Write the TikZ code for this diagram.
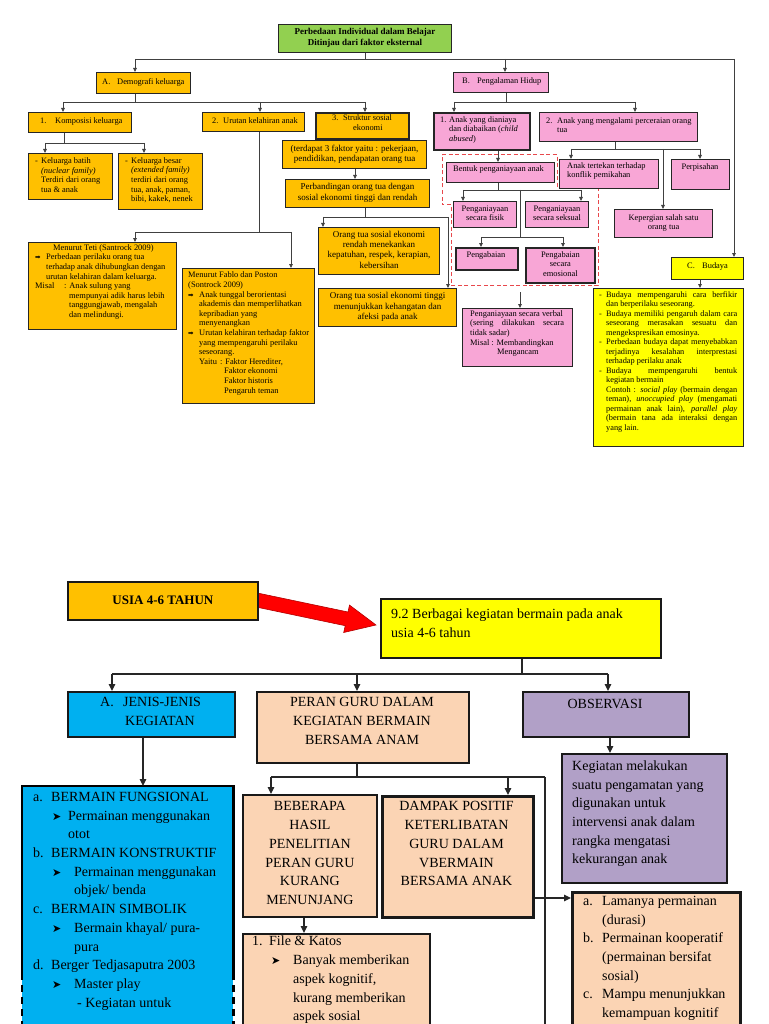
\documentclass[tikz,border=0pt]{standalone}
\usepackage{fontspec}
\setmainfont{Liberation Serif}
\newfontfamily\sym{DejaVu Sans}
\usetikzlibrary{arrows.meta}
\definecolor{gr}{HTML}{92D050}
\definecolor{org}{HTML}{FFC000}
\definecolor{pnk}{HTML}{F8A6D6}
\definecolor{ylw}{HTML}{FFFF00}
\definecolor{blu}{HTML}{00B0F0}
\definecolor{pch}{HTML}{FBD4B4}
\definecolor{pur}{HTML}{B1A0C7}
\definecolor{dred}{HTML}{E8484C}
\newcommand\ft{\fontsize{8.4}{9.6}\selectfont}
\newcommand\fc{\fontsize{9}{10.3}\selectfont}
\newcommand\fb{\fontsize{14}{18.7}\selectfont}
\newcommand\rarr{\makebox[11pt][l]{\sym\fontsize{6.5}{6}\selectfont ➡}}
\newcommand\rhead{{\sym\fontsize{11}{11}\selectfont ➤}}
\newcommand\bitem{\par\hangindent=7pt\hangafter=1\noindent\makebox[7pt][l]{-}}
\begin{document}
\begin{tikzpicture}[x=1pt,y=-1pt,
 bx/.style={draw=black!85,line width=1.1pt,inner sep=0pt,anchor=north west},
 bxk/.style={bx,line width=1.8pt},
 bb/.style={draw=black!90,line width=1.8pt,inner sep=0pt,anchor=north west},
 bbk/.style={bb,line width=2.8pt},
 tt/.style={inner sep=0pt,align=left,font=\ft,execute at begin node=\strut,execute at end node=\strut},
 ttc/.style={tt,align=center},
 tcs/.style={ttc,font=\fc},
 tb/.style={tt,font=\fb},
 tbc/.style={tb,align=center},
 con/.style={draw=black!75,line width=0.8pt},
 arr/.style={con,-{Triangle[length=4pt,width=3.6pt]}},
 bcon/.style={draw=black!85,line width=1.2pt},
 barr/.style={bcon,-{Triangle[length=7pt,width=6.5pt]}},
]
\useasboundingbox (0,0) rectangle (768,1024);
\fill[white] (0,0) rectangle (768,1024);
\clip (0,0) rectangle (768,1024);

% ---------------- TOP DIAGRAM ----------------
\draw[dred,line width=1pt,dash pattern=on 4pt off 2.5pt] (442,155) -- (557,155) -- (557,188) -- (598,188) -- (598,285) -- (451,285) -- (451,205) -- (442,205) -- cycle;

\node[bx,fill=gr,minimum width=173pt,minimum height=28pt] (T) at (278,24) {};
\node[bx,fill=org,minimum width=94pt,minimum height=21pt] (A) at (96,72) {};
\node[bx,fill=pnk,minimum width=95pt,minimum height=20pt] (B) at (453,72) {};
\node[bx,fill=org,minimum width=103pt,minimum height=20pt] (K1) at (28,112) {};
\node[bx,fill=org,minimum width=102pt,minimum height=19pt] (K2) at (202,112) {};
\node[bxk,fill=org,minimum width=93pt,minimum height=26pt] (K3) at (315,112) {};
\node[bxk,fill=pnk,minimum width=96pt,minimum height=37pt] (B1) at (433,112) {};
\node[bx,fill=pnk,minimum width=158pt,minimum height=29pt] (B2) at (539,112) {};
\node[bx,fill=org,minimum width=84pt,minimum height=46pt] (Kb) at (28,153) {};
\node[bx,fill=org,minimum width=84pt,minimum height=56pt] (Kbs) at (118,153) {};
\node[bx,fill=org,minimum width=148pt,minimum height=87pt] (Te) at (28,242) {};
\node[bx,fill=org,minimum width=132pt,minimum height=135pt] (Fa) at (182,268) {};
\node[bx,fill=org,minimum width=144pt,minimum height=28pt] (S1) at (282,140) {};
\node[bx,fill=org,minimum width=144pt,minimum height=28pt] (S2) at (285,179) {};
\node[bx,fill=org,minimum width=121pt,minimum height=47pt] (S3) at (318,227) {};
\node[bx,fill=org,minimum width=138pt,minimum height=38pt] (S4) at (318,288) {};
\node[bx,fill=pnk,minimum width=108pt,minimum height=20pt] (Be) at (446,162) {};
\node[bx,fill=pnk,minimum width=63pt,minimum height=26pt] (Fi) at (453,201) {};
\node[bx,fill=pnk,minimum width=63pt,minimum height=26pt] (Se) at (525,201) {};
\node[bxk,fill=pnk,minimum width=62pt,minimum height=22pt] (Pg) at (455,247) {};
\node[bxk,fill=pnk,minimum width=69pt,minimum height=35pt] (Em) at (525,247) {};
\node[bx,fill=pnk,minimum width=110pt,minimum height=58pt] (Ve) at (462,308) {};
\node[bx,fill=pnk,minimum width=99pt,minimum height=29pt] (Tr) at (559,159) {};
\node[bx,fill=pnk,minimum width=58pt,minimum height=30pt] (Pe) at (671,159) {};
\node[bx,fill=pnk,minimum width=98pt,minimum height=28pt] (Kp) at (614,209) {};
\node[bx,fill=ylw,minimum width=72pt,minimum height=22pt] (C) at (671,257) {};
\node[bx,fill=ylw,minimum width=150pt,minimum height=158pt] (Bu) at (593,288) {};

% top texts
\node[tcs,font=\fc\bfseries] (T-t) at (T.center) {Perbedaan Individual dalam Belajar\\Ditinjau dari faktor eksternal};
\node[tt,anchor=west] (A-t) at (102,82.5) {\makebox[15pt][l]{A.}Demografi keluarga};
\node[tt,anchor=west] (B-t) at (462,82) {\makebox[15pt][l]{B.}Pengalaman Hidup};
\node[tt,anchor=west] (K1-t) at (40,122) {\makebox[15pt][l]{1.}Komposisi keluarga};
\node[tt,anchor=west] (K2-t) at (212,121.5) {\makebox[11pt][l]{2.}Urutan kelahiran anak};
\node[tt,anchor=west] (K3-t) at (332,124) {\makebox[11pt][l]{3.}Struktur sosial\\\hspace*{21pt}ekonomi};
\node[tt,anchor=west] (B1-t) at (440,130.5) {\makebox[9pt][l]{1.}Anak yang dianiaya\\\hspace*{9pt}dan diabaikan (\textit{child}\\\hspace*{9pt}\textit{abused})};
\node[tt,anchor=west] (B2-t) at (546,126.5) {\makebox[11pt][l]{2.}Anak yang mengalami perceraian orang\\\hspace*{11pt}tua};
\node[tt,anchor=west] (Kb-t) at (35,176.5) {\makebox[6pt][l]{-}Keluarga batih\\\hspace*{6pt}\textit{(nuclear family)}\\\hspace*{6pt}Terdiri dari orang\\\hspace*{6pt}tua \& anak};
\node[tt,anchor=west] (Kbs-t) at (125,181) {\makebox[6pt][l]{-}Keluarga besar\\\hspace*{6pt}\textit{(extended family)}\\\hspace*{6pt}terdiri dari orang\\\hspace*{6pt}tua, anak, paman,\\\hspace*{6pt}bibi, kakek, nenek};
\node[tt,anchor=west] (Te-t) at (35,282.5) {\hspace*{18pt}Menurut Teti (Santrock 2009)\\
\rarr Perbedaan perilaku orang tua\\
\hspace*{11pt}terhadap anak dihubungkan dengan\\
\hspace*{11pt}urutan kelahiran dalam keluarga.\\
\makebox[29pt][l]{Misal}: Anak sulung yang\\
\hspace*{34pt}mempunyai adik harus lebih\\
\hspace*{34pt}tanggungjawab, mengalah\\
\hspace*{34pt}dan melindungi.};
\node[tt,anchor=west] (Fa-t) at (188,334) {Menurut Fablo dan Poston\\
(Sontrock 2009)\\
\rarr Anak tunggal berorientasi\\
\hspace*{11pt}akademis dan memperlihatkan\\
\hspace*{11pt}kepribadian yang\\
\hspace*{11pt}menyenangkan\\
\rarr Urutan kelahiran terhadap faktor\\
\hspace*{11pt}yang mempengaruhi perilaku\\
\hspace*{11pt}seseorang.\\
\hspace*{11pt}\makebox[21pt][l]{Yaitu}: Faktor Herediter,\\
\hspace*{36pt}Faktor ekonomi\\
\hspace*{36pt}Faktor historis\\
\hspace*{36pt}Pengaruh teman};
\node[tcs] (S1-t) at (S1.center) {(terdapat 3 faktor yaitu : pekerjaan,\\pendidikan, pendapatan orang tua};
\node[tcs] (S2-t) at (S2.center) {Perbandingan orang tua dengan\\sosial ekonomi tinggi dan rendah};
\node[tcs] (S3-t) at (S3.center) {Orang tua sosial ekonomi\\rendah menekankan\\kepatuhan, respek, kerapian,\\kebersihan};
\node[tcs] (S4-t) at (S4.center) {Orang tua sosial ekonomi tinggi\\menunjukkan kehangatan dan\\afeksi pada anak};
\node[tt,anchor=west] (Be-t) at (453,170) {Bentuk penganiayaan anak};
\node[ttc] (Fi-t) at (Fi.center) {Penganiayaan\\secara fisik};
\node[ttc] (Se-t) at (Se.center) {Penganiayaan\\secara seksual};
\node[ttc] (Pg-t) at (486,256) {Pengabaian};
\node[ttc] (Em-t) at (Em.center) {Pengabaian\\secara\\emosional};
\node[tt,anchor=west] (Ve-t) at (470,334) {Penganiayaan secara verbal\\
\makebox[94pt][s]{(sering dilakukan secara}\\
tidak sadar)\\
Misal : Membandingkan\\
\hspace*{27pt}Mengancam};
\node[tt,anchor=west] (Tr-t) at (567,171.5) {Anak tertekan terhadap\\konflik pemikahan};
\node[ttc] (Pe-t) at (700,168) {Perpisahan};
\node[ttc] (Kp-t) at (Kp.center) {Kepergian salah satu\\orang tua};
\node[tt,anchor=west] (C-t) at (687,267) {\makebox[15pt][l]{C.}Budaya};
\node[inner sep=0pt,anchor=west,font=\fontsize{8.3}{9.5}\selectfont] (Bu-t) at (599,361.5) {\parbox{138pt}{%
\bitem Budaya mempengaruhi cara berfikir\linebreak dan berperilaku seseorang.
\bitem Budaya memiliki pengaruh dalam cara\linebreak seseorang merasakan sesuatu dan\linebreak mengekspresikan emosinya.
\bitem Perbedaan budaya dapat menyebabkan\linebreak terjadinya kesalahan interprestasi\linebreak terhadap perilaku anak
\bitem Budaya mempengaruhi bentuk\linebreak kegiatan bermain\newline Contoh : \textit{social play} (bermain dengan\linebreak teman), \textit{unoccupied play} (mengamati\linebreak permainan anak lain), \textit{parallel play}\linebreak (bermain tana ada interaksi dengan\linebreak yang lain.}};

% top connectors
\coordinate (t0) at (135,59); \coordinate (t1) at (734,59); \coordinate (t2) at (505,59);
\draw[con] (T.south) -- (T.south |- t0);
\draw[con] (t0) -- (t1);
\draw[arr] (t0) -- (t0 |- A.north);
\draw[arr] (t2) -- (t2 |- B.north);
\draw[arr] (t1) -- (t1 |- C.north);

\coordinate (a0) at (135,102); \coordinate (a1) at (63,102); \coordinate (a2) at (260,102); \coordinate (a3) at (365,102);
\draw[con] (A.south -| a0) -- (a0);
\draw[con] (a1) -- (a3);
\draw[arr] (a1) -- (a1 |- K1.north);
\draw[arr] (a2) -- (a2 |- K2.north);
\draw[arr] (a3) -- (a3 |- K3.north);

\coordinate (k0) at (64,143); \coordinate (k1) at (45,143); \coordinate (k2) at (144,143);
\draw[con] (K1.south -| k0) -- (k0);
\draw[con] (k1) -- (k2);
\draw[arr] (k1) -- (k1 |- Kb.north);
\draw[arr] (k2) -- (k2 |- Kbs.north);

\coordinate (u0) at (259,232); \coordinate (u1) at (135,232); \coordinate (u2) at (291,232);
\draw[con] (K2.south -| u0) -- (u0);
\draw[con] (u1) -- (u2);
\draw[arr] (u1) -- (u1 |- Te.north);
\draw[arr] (u2) -- (u2 |- Fa.north);

\coordinate (s0) at (355,0);
\draw[arr] (S1.south -| s0) -- (S2.north -| s0);
\coordinate (s1) at (365,217); \coordinate (s2) at (323,217); \coordinate (s3) at (448,217);
\draw[con] (S2.south -| s1) -- (s1);
\draw[con] (s2) -- (s3);
\draw[arr] (s2) -- (s2 |- S3.north);
\draw[arr] (s3) -- (s3 |- S4.north);

\coordinate (b0) at (506,102); \coordinate (b1) at (454,102); \coordinate (b2) at (635,102);
\draw[con] (B.south -| b0) -- (b0);
\draw[con] (b1) -- (b2);
\draw[arr] (b1) -- (b1 |- B1.north);
\draw[arr] (b2) -- (b2 |- B2.north);

\coordinate (c0) at (498,0);
\draw[arr] (B1.south -| c0) -- (Be.north -| c0);
\coordinate (d0) at (498,190); \coordinate (d1) at (463,190); \coordinate (d2) at (581,190);
\coordinate (d3) at (520,190); \coordinate (d4) at (520,237); \coordinate (d5) at (481,237); \coordinate (d6) at (563,237);
\draw[con] (Be.south -| d0) -- (d0);
\draw[con] (d1) -- (d2);
\draw[arr] (d1) -- (d1 |- Fi.north);
\draw[arr] (d2) -- (d2 |- Se.north);
\draw[con] (d3) -- (d4);
\draw[con] (d5) -- (d6);
\draw[arr] (d5) -- (d5 |- Pg.north);
\draw[arr] (d6) -- (d6 |- Em.north);
\coordinate (v0) at (520,292);
\draw[arr] (v0) -- (v0 |- Ve.north);

\coordinate (e0) at (615,149); \coordinate (e1) at (571,149); \coordinate (e2) at (700,149); \coordinate (e3) at (663,149);
\draw[con] (B2.south -| e0) -- (e0);
\draw[con] (e1) -- (e2);
\draw[arr] (e1) -- (e1 |- Tr.north);
\draw[arr] (e2) -- (e2 |- Pe.north);
\draw[arr] (e3) -- (e3 |- Kp.north);
\coordinate (f0) at (700,0);
\draw[arr] (C.south -| f0) -- (Bu.north -| f0);

% ---------------- BOTTOM DIAGRAM ----------------
\filldraw[fill=red,draw=red!70!black,line width=0.6pt] (258.4,593.2) -- (348.0,612.0) -- (349.5,605.1) -- (376,625) -- (343.7,632.5) -- (345.2,625.7) -- (255.6,606.9) -- cycle;

\node[bb,fill=org,minimum width=190pt,minimum height=38pt] (Us) at (67,581) {};
\node[bb,fill=ylw,minimum width=280pt,minimum height=59pt] (Y) at (380,598) {};
\node[bb,fill=blu,minimum width=167pt,minimum height=45pt] (Aj) at (67,691) {};
\node[bb,fill=pch,minimum width=212pt,minimum height=71pt] (Pr) at (256,691) {};
\node[bb,fill=pur,minimum width=166pt,minimum height=45pt] (Ob) at (522,691) {};
\node[bb,fill=pur,minimum width=165pt,minimum height=129pt] (Pu) at (561,753) {};
\node[fill=blu,inner sep=0pt,anchor=north west,minimum width=211pt,minimum height=260pt] (Bl) at (22,786) {};
\draw[line width=2.6pt] (Bl.west |- 0,973) -- (Bl.north west) -- (Bl.north east) -- (Bl.east |- 0,973);
\draw[line width=2.6pt,dash pattern=on 7pt off 5pt] (Bl.west |- 0,973) -- (Bl.south west) (Bl.east |- 0,973) -- (Bl.south east);
\node[bb,fill=pch,minimum width=134pt,minimum height=122pt] (Bb) at (242,794) {};
\node[bbk,fill=pch,minimum width=151pt,minimum height=121pt] (Dm) at (381,795) {};
\node[bb,fill=pch,minimum width=187pt,minimum height=120pt] (Fk) at (242,933) {};
\node[bbk,fill=pch,minimum width=168pt,minimum height=160pt] (La) at (571,891) {};

% bottom texts
\node[tbc,font=\fontsize{13}{16}\selectfont\bfseries] (Us-t) at (Us.center) {USIA 4-6 TAHUN};
\node[tb,anchor=west] (Y-t) at (391,626) {9.2 Berbagai kegiatan bermain pada anak\\usia 4-6 tahun};
\node[tb,anchor=west] (Aj-t) at (100,714) {\makebox[23pt][l]{A.}JENIS-JENIS\\\hspace*{25pt}KEGIATAN};
\node[tbc] (Pr-t) at (362,723.5) {PERAN GURU DALAM\\KEGIATAN BERMAIN\\BERSAMA ANAM};
\node[tbc] (Ob-t) at (605,705) {OBSERVASI};
\node[tb,anchor=west] (Pu-t) at (572,815) {Kegiatan melakukan\\suatu pengamatan yang\\digunakan untuk\\intervensi anak dalam\\rangka mengatasi\\kekurangan anak};
\node[tb,anchor=north west] (Bl-t) at (33,792) {\makebox[18pt][l]{a.}BERMAIN FUNGSIONAL\\
\hspace*{19pt}\makebox[16pt][l]{\rhead}Permainan menggunakan\\
\hspace*{35pt}otot\\
\makebox[18pt][l]{b.}BERMAIN KONSTRUKTIF\\
\hspace*{19pt}\makebox[22pt][l]{\rhead}Permainan menggunakan\\
\hspace*{41pt}objek/ benda\\
\makebox[18pt][l]{c.}BERMAIN SIMBOLIK\\
\hspace*{19pt}\makebox[22pt][l]{\rhead}Bermain khayal/ pura-\\
\hspace*{41pt}pura\\
\makebox[18pt][l]{d.}Berger Tedjasaputra 2003\\
\hspace*{19pt}\makebox[22pt][l]{\rhead}Master play\\
\hspace*{44pt}- Kegiatan untuk};
\node[tbc] (Bb-t) at (Bb.center) {BEBERAPA\\HASIL\\PENELITIAN\\PERAN GURU\\KURANG\\MENUNJANG};
\node[tbc] (Dm-t) at (456.5,846.5) {DAMPAK POSITIF\\KETERLIBATAN\\GURU DALAM\\VBERMAIN\\BERSAMA ANAK};
\node[tb,anchor=north west] (Fk-t) at (252,936) {\makebox[17pt][l]{1.}File \& Katos\\
\hspace*{19pt}\makebox[22pt][l]{\rhead}Banyak memberikan\\
\hspace*{41pt}aspek kognitif,\\
\hspace*{41pt}kurang memberikan\\
\hspace*{41pt}aspek sosial};
\node[tb,anchor=north west] (La-t) at (583,896) {\makebox[19pt][l]{a.}Lamanya permainan\\
\hspace*{19pt}(durasi)\\
\makebox[19pt][l]{b.}Permainan kooperatif\\
\hspace*{19pt}(permainan bersifat\\
\hspace*{19pt}sosial)\\
\makebox[19pt][l]{c.}Mampu menunjukkan\\
\hspace*{19pt}kemampuan kognitif};

% bottom connectors
\coordinate (g0) at (522,674); \coordinate (g1) at (112,674); \coordinate (g2) at (357,674); \coordinate (g3) at (608,674);
\draw[bcon] (Y.south -| g0) -- (g0);
\draw[bcon] (g1) -- (g3);
\draw[barr] (g1) -- (g1 |- Aj.north);
\draw[barr] (g2) -- (g2 |- Pr.north);
\draw[barr] (g3) -- (g3 |- Ob.north);
\coordinate (h0) at (610,0); \coordinate (h1) at (143,0);
\draw[barr] (Ob.south -| h0) -- (Pu.north -| h0);
\draw[barr] (Aj.south -| h1) -- (Bl.north -| h1);
\coordinate (p0) at (357,777); \coordinate (p1) at (271,777); \coordinate (p2) at (508,777); \coordinate (p3) at (545,777); \coordinate (p4) at (545,1030);
\draw[bcon] (Pr.south -| p0) -- (p0);
\draw[bcon] (p1) -- (p3);
\draw[barr] (p1) -- (p1 |- Bb.north);
\draw[barr] (p2) -- (p2 |- Dm.north);
\draw[bcon] (p3) -- (p4);
\coordinate (q0) at (304,0); \coordinate (q1) at (0,898);
\draw[barr] (Bb.south -| q0) -- (Fk.north -| q0);
\draw[barr] (Dm.east |- q1) -- (La.west |- q1);
\end{tikzpicture}
\end{document}
